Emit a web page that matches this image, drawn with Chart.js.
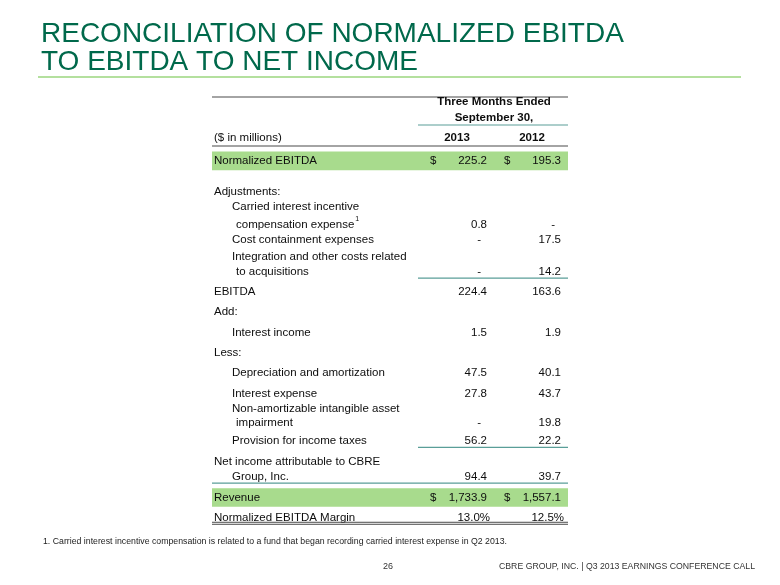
<!DOCTYPE html>
<html>
<head>
<meta charset="utf-8">
<script src="https://cdn.jsdelivr.net/npm/chart.js@4/dist/chart.umd.min.js"></script>
<style>
  html, body { margin: 0; padding: 0; background: #ffffff; }
  canvas { display: block; }
</style>
</head>
<body>
<canvas id="chart" width="780" height="585"></canvas>
<script>
// Table rows ($ in millions), three months ended September 30
const rowLabels = [
  'Normalized EBITDA',
  'Adjustments:',
  'Carried interest incentive',
  'compensation expense',
  'Cost containment expenses',
  'Integration and other costs related',
  'to acquisitions',
  'EBITDA',
  'Add:',
  'Interest income',
  'Less:',
  'Depreciation and amortization',
  'Interest expense',
  'Non-amortizable intangible asset',
  'impairment',
  'Provision for income taxes',
  'Net income attributable to CBRE',
  'Group, Inc.',
  'Revenue',
  'Normalized EBITDA Margin',
];
const yearLabels = ['2013', '2012'];
// null = blank cell, 0 = shown as a dash
const values2013 = [225.2, null, null, 0.8, 0, null, 0, 224.4, null, 1.5, null, 47.5, 27.8, null, 0, 56.2, null, 94.4, 1733.9, 13.0];
const values2012 = [195.3, null, null, 0, 17.5, null, 14.2, 163.6, null, 1.9, null, 40.1, 43.7, null, 19.8, 22.2, null, 39.7, 1557.1, 12.5];
const highlightRows = ['Normalized EBITDA', 'Revenue'];
const percentRows = ['Normalized EBITDA Margin'];
const footnoteRows = ['compensation expense'];

// layout / style per row
const rowIndent = [0, 0, 1, 2, 1, 1, 2, 0, 0, 1, 0, 1, 1, 1, 2, 1, 0, 1, 0, 0];
const rowSpacing = [0, 1.8, 0.9, 1.05, 0.9, 1.0, 0.9, 1.2, 1.2, 1.2, 1.2, 1.2, 1.2, 0.9, 0.85, 1.05, 1.25, 0.9, 1.2, 1.2];
const ruleBelow = { 6: 'values', 15: 'values', 17: 'full', 19: 'double' };

const rowPos = [];
rowSpacing.reduce((acc, s, i) => { rowPos[i] = acc + s; return acc + s; }, 0);

const FONT = "'Liberation Sans', Arial, sans-serif";
const GREEN = '#00694b';
const TEXT = '#0d0d0d';
const RULE_DARK = '#4a4a4a';
const RULE_TEAL = '#5a9e98';

const fmt = (v, pct) => {
  if (v === null) return '';
  if (v === 0) return '-';
  return v.toLocaleString('en-US', { minimumFractionDigits: 1, maximumFractionDigits: 1 }) + (pct ? '%' : '');
};

function hline(ctx, x1, x2, y, color, w) {
  ctx.save();
  ctx.strokeStyle = color;
  ctx.lineWidth = w;
  ctx.beginPath();
  ctx.moveTo(x1, y);
  ctx.lineTo(x2, y);
  ctx.stroke();
  ctx.restore();
}

function text(ctx, str, x, y, font, color, align, maxW) {
  ctx.font = font;
  ctx.fillStyle = color;
  ctx.textAlign = align || 'left';
  ctx.textBaseline = 'middle';
  if (maxW) ctx.fillText(str, x, y, maxW);
  else ctx.fillText(str, x, y);
}

const tablePlugin = {
  id: 'tableText',
  afterDatasetsDraw(chart) {
    const { ctx, chartArea: area, scales } = chart;
    const L = area.left, R = area.right;
    const col = [{ dollar: 430, right: 487 }, { dollar: 504, right: 561 }];
    const indentX = [L + 2, L + 20, L + 24];
    const body = '11.5px ' + FONT;
    const bold = 'bold 11.5px ' + FONT;

    // slide title
    text(ctx, 'RECONCILIATION OF NORMALIZED EBITDA', 41, 34, '28px ' + FONT, GREEN, 'left', 586);
    text(ctx, 'TO EBITDA TO NET INCOME', 41, 62, '28px ' + FONT, GREEN);
    hline(ctx, 38, 741, 77, '#9bd67e', 1.5);

    // column header block
    hline(ctx, L, R, 97, RULE_DARK, 1.2);
    text(ctx, 'Three Months Ended', 494, 102, bold, TEXT, 'center');
    text(ctx, 'September 30,', 494, 118, bold, TEXT, 'center');
    hline(ctx, 418, R, 125, RULE_TEAL, 1.2);
    text(ctx, '($ in millions)', L + 2, 138, body, TEXT);
    text(ctx, yearLabels[0], 457, 138, bold, TEXT, 'center');
    text(ctx, yearLabels[1], 532, 138, bold, TEXT, 'center');
    hline(ctx, L, R, 146, RULE_DARK, 1.2);

    rowLabels.forEach((label, i) => {
      const y = scales.y.getPixelForValue(rowPos[i]);
      const x = indentX[rowIndent[i]];
      text(ctx, label, x, y, body, TEXT);
      if (footnoteRows.includes(label)) {
        ctx.font = body;
        const w = ctx.measureText(label).width;
        text(ctx, '1', x + w + 1, y - 5, '7px ' + FONT, TEXT);
      }
      const pct = percentRows.includes(label);
      [values2013[i], values2012[i]].forEach((v, c) => {
        if (v === null) return;
        if (highlightRows.includes(label)) text(ctx, '$', col[c].dollar, y, body, TEXT);
        const xr = v === 0 ? col[c].right - 6 : col[c].right + (pct ? 3 : 0);
        text(ctx, fmt(v, pct), xr, y, body, TEXT, 'right');
      });
      const rule = ruleBelow[i];
      if (rule === 'values') hline(ctx, 418, R, y + 6.5, RULE_TEAL, 1.2);
      if (rule === 'full') hline(ctx, L, R, y + 6, RULE_TEAL, 1.2);
      if (rule === 'double') {
        hline(ctx, L, R, y + 4.5, RULE_DARK, 1);
        hline(ctx, L, R, y + 6.5, RULE_DARK, 1);
      }
    });

    // footnote and footer
    text(ctx, '1. Carried interest incentive compensation is related to a fund that began recording carried interest expense in Q2 2013.',
      43, 541, '9.5px ' + FONT, '#222222', 'left', 464);
    text(ctx, '26', 383, 566, '9.5px ' + FONT, '#333333', 'left', 10);
    text(ctx, 'CBRE GROUP, INC. | Q3 2013 EARNINGS CONFERENCE CALL', 499, 566, '9.5px ' + FONT, '#333333', 'left', 256);
  },
};

const bandData = rowLabels
  .map((label, i) => (highlightRows.includes(label) ? { x: [0, 1], y: rowPos[i] } : null))
  .filter(Boolean);

new Chart(document.getElementById('chart'), {
  type: 'bar',
  data: {
    datasets: [{
      data: bandData,
      backgroundColor: '#a8db8d',
      borderWidth: 0,
      barThickness: 18,
      grouped: false,
    }],
  },
  options: {
    indexAxis: 'y',
    responsive: false,
    animation: false,
    layout: { padding: { top: 144, bottom: 52, left: 212, right: 212 } },
    plugins: { legend: { display: false }, tooltip: { enabled: false } },
    scales: {
      x: { type: 'linear', min: 0, max: 1, display: false },
      y: { type: 'linear', reverse: true, min: -1, max: 22, offset: false, display: false },
    },
  },
  plugins: [tablePlugin],
});
</script>
</body>
</html>
